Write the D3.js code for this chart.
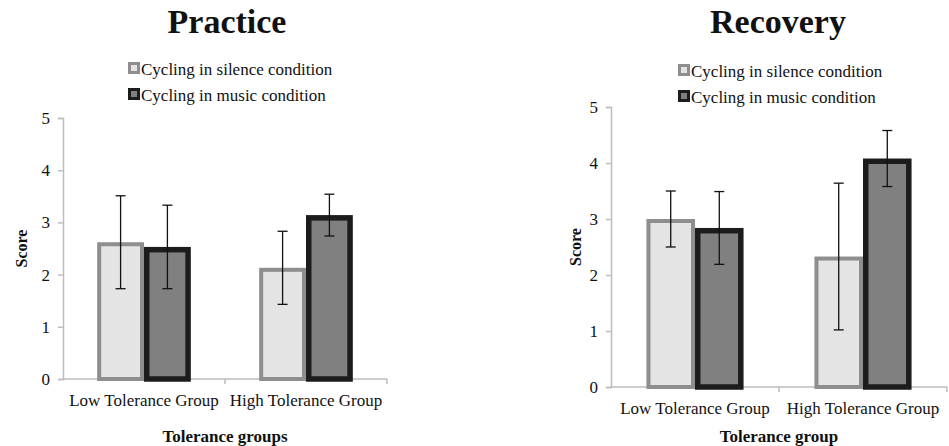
<!DOCTYPE html>
<html>
<head>
<meta charset="utf-8">
<script src="https://cdn.jsdelivr.net/npm/d3@7"></script>
<style>
  body { margin: 0; background: #fff; }
  text { font-family: "Liberation Serif", "Times New Roman", serif; fill: #111; }
</style>
</head>
<body>
<script>
var groups = ["Low Tolerance Group", "High Tolerance Group"];
var seriesNames = ["Cycling in silence condition", "Cycling in music condition"];
var yTicks = [0, 1, 2, 3, 4, 5];

// Practice panel
var practiceSilence = [2.62, 2.13];
var practiceMusic = [2.53, 3.14];
var practiceSilenceErr = [0.89, 0.70];
var practiceMusicErr = [0.80, 0.40];

// Recovery panel
var recoverySilence = [3.00, 2.33];
var recoveryMusic = [2.84, 4.08];
var recoverySilenceErr = [0.50, 1.31];
var recoveryMusicErr = [0.65, 0.50];

var fills = ["#e4e4e4", "#808080"];
var strokes = ["#8e8e8e", "#1c1c1c"];
var strokeW = [4, 5.5];

var svg = d3.select('body').append('svg').attr('width', 949).attr('height', 446);

var panels = [
  {title: "Practice", xTitle: "Tolerance groups", left: 63, right: 387, top: 118, bottom: 379,
   titleX: 227, legendX: 128, legendY: 62, scoreX: 27, xLabY: 406, xTitleY: 442,
   vals: [practiceSilence, practiceMusic], errs: [practiceSilenceErr, practiceMusicErr]},
  {title: "Recovery", xTitle: "Tolerance group", left: 611, right: 947, top: 107, bottom: 387,
   titleX: 778, legendX: 678, legendY: 64, scoreX: 581, xLabY: 414, xTitleY: 442,
   vals: [recoverySilence, recoveryMusic], errs: [recoverySilenceErr, recoveryMusicErr]}
];

panels.forEach(function(p) {
  var g = svg.append('g');

  var x0 = d3.scaleBand().domain(groups).range([p.left, p.right]).padding(0);
  var x1 = d3.scaleBand().domain([0, 1]).range([0, x0.bandwidth()]).paddingInner(0).paddingOuter(0.73);
  var y = d3.scaleLinear().domain([0, 5]).range([p.bottom, p.top]);

  // title
  g.append('text').attr('x', p.titleX).attr('y', 33).attr('text-anchor', 'middle')
    .style('font-size', '34px').style('font-weight', 'bold').text(p.title);

  // legend
  seriesNames.forEach(function(s, i) {
    var ly = p.legendY + i * 26;
    g.append('rect').attr('x', p.legendX + 1.5).attr('y', ly + 1.5).attr('width', 9).attr('height', 9)
      .attr('fill', fills[i]).attr('stroke', strokes[i]).attr('stroke-width', 3);
    g.append('text').attr('x', p.legendX + 13).attr('y', ly + 12.5)
      .style('font-size', '17px').text(s);
  });

  // y axis
  var yAxis = g.append('g').attr('transform', 'translate(' + p.left + ',0)')
    .call(d3.axisLeft(y).tickValues(yTicks).tickSize(5).tickPadding(8).tickFormat(d3.format('d')));
  yAxis.select('.domain').attr('stroke', '#bdbdbd').attr('stroke-width', 1.5);
  yAxis.selectAll('.tick line').attr('stroke', '#bdbdbd').attr('stroke-width', 1.5);
  yAxis.selectAll('.tick text').style('font-size', '17px').style('font-family', '"Liberation Serif", serif').attr('fill', '#111');

  // x axis line with ticks at group boundaries
  g.append('line').attr('x1', p.left).attr('x2', p.right).attr('y1', y(0)).attr('y2', y(0))
    .attr('stroke', '#bdbdbd').attr('stroke-width', 1.5);
  var bounds = groups.map(function(d) { return x0(d); }).concat([p.right]);
  g.selectAll('line.xt').data(bounds.slice(1)).enter().append('line').attr('class', 'xt')
    .attr('x1', d => d).attr('x2', d => d).attr('y1', y(0)).attr('y2', y(0) + 5)
    .attr('stroke', '#bdbdbd').attr('stroke-width', 1.5);

  g.selectAll('text.xl').data(groups).enter().append('text').attr('class', 'xl')
    .attr('x', d => x0(d) + x0.bandwidth() / 2).attr('y', p.xLabY).attr('text-anchor', 'middle')
    .style('font-size', '17px').text(d => d);

  // bars
  [0, 1].forEach(function(si) {
    g.selectAll('rect.b' + si).data(groups).enter().append('rect').attr('class', 'b' + si)
      .attr('x', (d, i) => x0(d) + x1(si) + strokeW[si] / 2)
      .attr('width', x1.bandwidth() - strokeW[si])
      .attr('y', (d, i) => y(p.vals[si][i]) + strokeW[si] / 2)
      .attr('height', (d, i) => y(0) - y(p.vals[si][i]) - strokeW[si] / 2)
      .attr('fill', fills[si]).attr('stroke', strokes[si]).attr('stroke-width', strokeW[si]);
  });

  // error bars
  [0, 1].forEach(function(si) {
    groups.forEach(function(d, i) {
      var cx = x0(d) + x1(si) + x1.bandwidth() / 2;
      var v = p.vals[si][i], e = p.errs[si][i];
      g.append('line').attr('x1', cx).attr('x2', cx).attr('y1', y(v + e)).attr('y2', y(v - e))
        .attr('stroke', '#111').attr('stroke-width', 1.3);
      [v + e, v - e].forEach(function(t) {
        g.append('line').attr('x1', cx - 5).attr('x2', cx + 5).attr('y1', y(t)).attr('y2', y(t))
          .attr('stroke', '#111').attr('stroke-width', 1.3);
      });
    });
  });

  // axis titles
  var midY = (p.top + p.bottom) / 2;
  g.append('text').attr('transform', 'translate(' + p.scoreX + ',' + midY + ') rotate(-90)')
    .attr('text-anchor', 'middle').style('font-size', '16px').style('font-weight', 'bold').text('Score');
  g.append('text').attr('x', (p.left + p.right) / 2).attr('y', p.xTitleY).attr('text-anchor', 'middle')
    .style('font-size', '17px').style('font-weight', 'bold').text(p.xTitle);
});
</script>
</body>
</html>
